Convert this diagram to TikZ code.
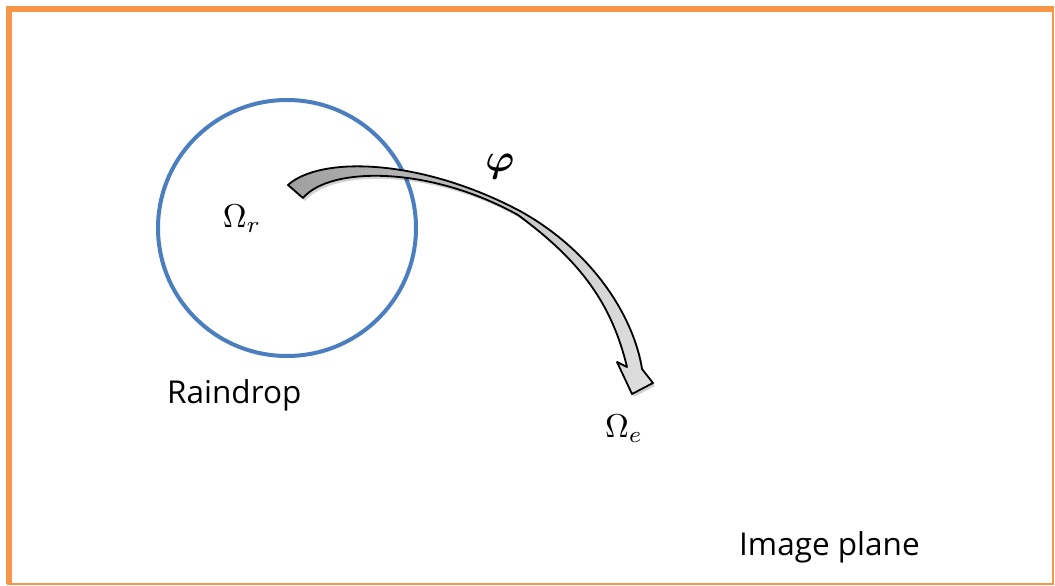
\documentclass[tikz,border=0pt]{standalone}
\usepackage{fontspec}
\setmainfont{Open Sans}
\usepackage{bm}
\definecolor{frameorange}{HTML}{F79646}
\definecolor{dropblue}{HTML}{4A7EBF}
\newcommand{\bigmath}[2][3.3]{\scalebox{#1}{$#2$}}
\tikzset{
  lbl/.style={inner sep=0pt, font=\fontsize{31.5}{36}\selectfont},
  mathlbl/.style={inner sep=0pt},
}
\begin{document}
\begin{tikzpicture}[x=1pt,y=-1pt]
\useasboundingbox (0,0) rectangle (1055,586);
% frame
\draw[frameorange, line width=2pt] (1053,7) -- (1053,584) -- (7,584);
\draw[frameorange, line width=6pt] (9,584) -- (9,9) -- (1054,9);
% raindrop
\draw[dropblue, line width=4pt] (287,228) ellipse [x radius=129, y radius=128];
% curved block arrow
\path[fill=black, opacity=0.18, xshift=2pt, yshift=-3pt]
  (288,185) .. controls (320,156) and (420,158) .. (520,211)
  .. controls (594,252) and (634,318) .. (642,369)
  -- (653,383) -- (632,394) -- (617,362) -- (627,367)
  .. controls (612,305) and (582,262) .. (518,215)
  .. controls (430,166) and (330,166) .. (303,198) -- cycle;
\draw[black, line width=1.8pt, line join=round, left color=gray!75, right color=gray!25]
  (288,185) .. controls (320,156) and (420,158) .. (520,211)
  .. controls (594,252) and (634,318) .. (642,369)
  -- (653,383) -- (632,394) -- (617,362) -- (627,367)
  .. controls (612,305) and (582,262) .. (518,215)
  .. controls (430,166) and (330,166) .. (303,198) -- cycle;
% labels
\node[mathlbl] (omr) at (242,219) {\bigmath{\Omega_r}};
\node[mathlbl] (phi) at (500,167) {\bigmath[3.9]{\bm{\varphi}}};
\node[mathlbl] (ome) at (624,429) {\bigmath{\Omega_e}};
\node[lbl, anchor=base west] (rain) at (167,403) {Raindrop};
\node[lbl, anchor=base west] (img) at (739,555) {Image plane};
\end{tikzpicture}
\end{document}
